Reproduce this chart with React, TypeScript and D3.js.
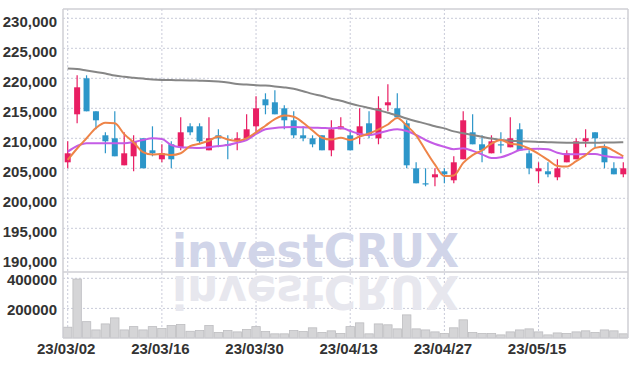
import React from 'react';
import * as d3 from 'd3';

const dates = [
  '23/03/02','23/03/03','23/03/06','23/03/07','23/03/08','23/03/09','23/03/10','23/03/13','23/03/14','23/03/15',
  '23/03/16','23/03/17','23/03/20','23/03/21','23/03/22','23/03/23','23/03/24','23/03/27','23/03/28','23/03/29',
  '23/03/30','23/03/31','23/04/03','23/04/04','23/04/05','23/04/06','23/04/07','23/04/10','23/04/11','23/04/12',
  '23/04/13','23/04/14','23/04/17','23/04/18','23/04/19','23/04/20','23/04/21','23/04/24','23/04/25','23/04/26',
  '23/04/27','23/04/28','23/05/02','23/05/03','23/05/04','23/05/08','23/05/09','23/05/10','23/05/11','23/05/12',
  '23/05/15','23/05/16','23/05/17','23/05/18','23/05/19','23/05/22','23/05/23','23/05/24','23/05/25','23/05/26',
];

const opens = [
  206000,214000,220000,214500,210500,210000,205500,207000,210000,208000,
  206500,209000,208500,212000,212000,208000,210500,209000,209500,210000,
  212000,216500,216000,215000,213000,210500,210000,210500,208000,211500,
  210500,210500,212500,210000,215500,215000,212500,205000,202500,203500,
  204500,203000,206500,211000,209000,207500,209000,208500,211500,207500,
  204500,204500,203500,206000,206500,209500,211000,208500,205000,204000,
];
const highs = [
  209500,220500,220500,214500,211000,214500,211000,210500,210000,212000,
  209000,209500,213500,212500,212500,213500,211500,210500,211000,214000,
  217000,217500,218000,215500,214500,212000,210500,210500,213000,213500,
  211500,215000,214500,217000,219000,217500,213000,206000,205000,205000,
  205000,207000,214500,214000,210500,210500,211000,213500,212500,208000,
  206000,206000,206500,208000,210000,211500,211000,209000,206000,206000,
];
const lows = [
  205000,212500,214500,211500,207500,207000,205500,204500,205000,207000,
  206000,205000,208000,210500,209000,208000,208500,206500,208000,210000,
  211000,214000,214000,211500,210000,209500,208500,208000,207000,211500,
  208000,209000,210000,209000,214500,213500,205000,202500,202000,202000,
  202500,202500,206500,209000,206000,207500,207500,208500,208000,204000,
  202500,203500,203000,206000,206500,208500,208500,205000,204000,203500,
];
const closes = [
  207500,218500,214500,213000,209500,207000,207500,209500,205000,207500,
  207500,206500,211000,211000,209500,210000,210000,209000,210000,211500,
  215000,215500,214000,213000,210500,210000,209000,208000,211500,212000,
  208000,212000,210500,215000,216000,213500,205500,202500,202500,204000,
  204000,206000,213000,209000,208000,209500,209000,210000,208000,205000,
  205000,204000,205000,207500,209500,210000,210000,206000,204000,205000,
];
const volumes = [
  75000,395000,112000,57000,97000,137000,57000,79000,57000,79000,
  66000,86000,93000,48000,53000,86000,40000,53000,44000,60000,
  79000,46000,31000,31000,53000,46000,71000,40000,51000,33000,
  79000,104000,31000,97000,91000,64000,157000,64000,57000,44000,
  33000,71000,124000,40000,33000,33000,24000,44000,57000,64000,
  44000,24000,37000,33000,44000,51000,40000,57000,51000,31000,
];
const ma5 = [
  206400,208300,210000,211700,212600,212500,210700,209300,207700,207300,
  207400,207200,207500,208700,209100,209600,210300,209800,209600,210000,
  211000,212100,213200,213800,213600,212600,211300,210100,209800,210100,
  209700,210300,210800,211500,212300,213400,212100,210500,208000,205600,
  203700,203800,205900,207200,208000,209100,209700,209100,208900,208300,
  207400,206400,205400,205300,206200,207200,208400,208600,207900,207000,
];
const ma20 = [
  207770,208720,209170,209170,209170,209170,209170,209380,209720,210000,
  209880,208880,208500,208440,208400,208500,208720,208880,209270,209720,
  210720,211500,211720,211830,211880,211830,211770,211720,211670,211770,
  211220,210720,210550,210830,211270,211500,211220,210550,209720,209050,
  208600,208170,208330,207900,207330,206700,206850,207380,208050,208220,
  208270,208170,207600,207330,207330,207380,207380,207050,206830,206770,
];
const ma60 = [
  221650,221550,221300,221050,220800,220450,220250,220100,219950,219800,
  219720,219700,219680,219650,219600,219550,219450,219300,219050,218950,
  218850,218780,218650,218480,218250,217850,217400,217050,216600,216250,
  215800,215400,215050,214700,214250,213800,213300,212850,212450,212000,
  211650,211150,210850,210550,210250,209950,209720,209600,209520,209450,
  209400,209350,209300,209270,209260,209260,209270,209280,209300,209330,
];

const priceTicks = [230000, 225000, 220000, 215000, 210000, 205000, 200000, 195000, 190000];
const volumeTicks = [400000, 200000];
const dateTickIdx = [0, 10, 20, 30, 40, 50];

const W = 636, H = 366;
const L = 63, R = 628, T = 9, PB = 272, VB = 338;
const UP = '#e91e63', DOWN = '#2d96c9';
const FONT = "'Liberation Sans Narrow', 'Liberation Sans', Arial, sans-serif";
const GRID = '#c9cbd9';
const FRAME = '#cfcfd4';

export default function App() {
  const idx = d3.range(dates.length);
  const x = d3.scaleBand<number>().domain(idx).range([L, R]).padding(0);
  const cx = (i: number) => (x(i) as number) + x.bandwidth() / 2;
  const yP = d3.scaleLinear().domain([190000, 230000]).range([258.3, 18.3]);
  const yV = d3.scaleLinear().domain([0, 400000]).range([338.5, 278.3]);
  const mk = (arr: number[]) =>
    d3.line<number>().x((_, i) => cx(i)).y((d) => yP(d)).curve(d3.curveMonotoneX)(arr) || '';
  const fmtP = d3.format(',');
  const fmtV = d3.format('d');
  const bw = 6;

  return (
    <svg width={W} height={H} style={{ position: 'absolute', left: 0, top: 0, background: '#fff' }}>
      <rect x={0} y={0} width={W} height={H} fill="#fff" />
      {/* grid */}
      {priceTicks.map((t) => (
        <line key={'pg' + t} x1={L} x2={R} y1={yP(t)} y2={yP(t)} stroke={GRID} strokeWidth={1} strokeDasharray="2,2" />
      ))}
      {volumeTicks.map((t) => (
        <line key={'vg' + t} x1={L} x2={R} y1={yV(t)} y2={yV(t)} stroke={GRID} strokeWidth={1} strokeDasharray="2,2" />
      ))}
      {dateTickIdx.map((i) => (
        <line key={'xg' + i} x1={cx(i)} x2={cx(i)} y1={T} y2={VB} stroke={GRID} strokeWidth={1} strokeDasharray="2,2" />
      ))}
      {/* watermark */}
      <g fontFamily="'DejaVu Sans', 'Liberation Sans', Arial, sans-serif" fontWeight="bold" fontSize={46}>
        <text x={172} y={267} fill="#d1d5e9" textLength={287} lengthAdjust="spacingAndGlyphs">investCRUX</text>
        <text x={172} y={267} fill="#e7e7ee" textLength={287} lengthAdjust="spacingAndGlyphs"
          transform="translate(0,543) scale(1,-1)">investCRUX</text>
      </g>
      {/* volume bars */}
      {volumes.map((v, i) => (
        <rect key={'v' + i} x={(x(i) as number) + 0.5} width={x.bandwidth() - 1} y={yV(v)} height={VB - yV(v)}
          fill="#d5d5d7" stroke="#bdbdc0" strokeWidth={0.8} />
      ))}
      {/* candles */}
      {idx.map((i) => {
        const o = opens[i], c = closes[i];
        const col = c > o ? UP : DOWN;
        const yt = yP(Math.max(o, c));
        const h = Math.max(1.2, Math.abs(yP(o) - yP(c)));
        return (
          <g key={'c' + i}>
            <line x1={cx(i)} x2={cx(i)} y1={yP(highs[i])} y2={yP(lows[i])} stroke={col} strokeWidth={1.2} />
            <rect x={cx(i) - bw / 2} y={yt} width={bw} height={h} fill={col} />
          </g>
        );
      })}
      {/* moving averages */}
      <path d={mk(ma60)} fill="none" stroke="#868686" strokeWidth={2} />
      <path d={mk(ma20)} fill="none" stroke="#c45ce6" strokeWidth={2} />
      <path d={mk(ma5)} fill="none" stroke="#ee8448" strokeWidth={2} />
      {/* frame */}
      <line x1={L} x2={L} y1={T} y2={VB} stroke={FRAME} strokeWidth={1.5} />
      <line x1={R} x2={R} y1={T} y2={VB} stroke={FRAME} strokeWidth={1.5} />
      <line x1={L} x2={R} y1={T} y2={T} stroke={FRAME} strokeWidth={1.5} />
      <line x1={L} x2={R} y1={PB} y2={PB} stroke={FRAME} strokeWidth={1.5} />
      <line x1={L} x2={R} y1={VB} y2={VB} stroke={FRAME} strokeWidth={1} />
      {/* axis labels */}
      <g fontFamily={FONT} fontSize={15} fontWeight="bold" fill="#333">
        {priceTicks.map((t) => (
          <text key={'pl' + t} x={57} y={yP(t) + 8.4} textAnchor="end">{fmtP(t)}</text>
        ))}
        {volumeTicks.map((t) => (
          <text key={'vl' + t} x={57} y={yV(t) + 7} textAnchor="end">{fmtV(t)}</text>
        ))}
        {dateTickIdx.map((i) => (
          <text key={'xl' + i} x={cx(i) - 1.5} y={354} textAnchor="middle">{dates[i]}</text>
        ))}
      </g>
    </svg>
  );
}
